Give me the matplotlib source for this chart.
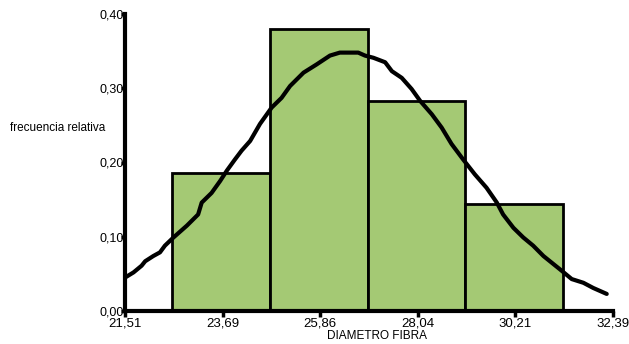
import numpy as np
import matplotlib
matplotlib.use('Agg')
import matplotlib.pyplot as plt

plt.rcParams['font.family'] = ['Liberation Sans', 'DejaVu Sans']

# histogram bins (DIAMETRO FIBRA) and relative frequencies
bin_edges = [22.56, 24.74, 26.92, 29.10, 31.28]
rel_freq = [0.186, 0.380, 0.283, 0.144]

# fitted curve
curve_x = [21.51, 21.70, 21.88, 21.96, 22.14, 22.29, 22.40, 22.59, 22.89, 23.14,
           23.22, 23.44, 23.63, 23.78, 23.96, 24.11, 24.30, 24.52, 24.78, 25.00,
           25.19, 25.49, 25.78, 26.08, 26.30, 26.71, 26.86, 27.05, 27.31, 27.46,
           27.68, 27.90, 28.09, 28.35, 28.57, 28.79, 29.05, 29.31, 29.57, 29.80,
           29.94, 30.17, 30.39, 30.61, 30.84, 31.21, 31.47, 31.73, 31.95, 32.25]
curve_y = [0.045, 0.052, 0.061, 0.067, 0.074, 0.079, 0.088, 0.099, 0.115, 0.130,
           0.146, 0.159, 0.175, 0.189, 0.204, 0.216, 0.229, 0.252, 0.274, 0.287,
           0.303, 0.321, 0.332, 0.344, 0.348, 0.348, 0.344, 0.341, 0.335, 0.323,
           0.314, 0.299, 0.283, 0.265, 0.247, 0.225, 0.204, 0.184, 0.166, 0.146,
           0.130, 0.112, 0.099, 0.088, 0.074, 0.056, 0.043, 0.038, 0.031, 0.023]

x_ticks = [21.51, 23.69, 25.86, 28.04, 30.21, 32.39]
x_ticklabels = ['21,51', '23,69', '25,86', '28,04', '30,21', '32,39']
y_ticks = [0.0, 0.1, 0.2, 0.3, 0.4]
y_ticklabels = ['0,00', '0,10', '0,20', '0,30', '0,40']

fig = plt.figure(figsize=(6.29, 3.44), dpi=100)
ax = fig.add_axes([125/629, 1-311/344, (613-125)/629, (311-14)/344])

widths = np.diff(bin_edges)
ax.bar(bin_edges[:-1], rel_freq, width=widths, align='edge',
       color='#A4C974', edgecolor='black', linewidth=2.0, zorder=2)
ax.plot(curve_x, curve_y, color='black', linewidth=3.0, zorder=3,
        solid_capstyle='round', solid_joinstyle='round')

ax.set_xlim(21.51, 32.39)
ax.set_ylim(0, 0.40)
ax.set_xticks(x_ticks)
ax.set_xticklabels(x_ticklabels)
ax.set_yticks(y_ticks)
ax.set_yticklabels(y_ticklabels)

for s in ['top', 'right']:
    ax.spines[s].set_visible(False)
ax.spines['left'].set_linewidth(3.0)
ax.spines['bottom'].set_linewidth(3.0)
ax.tick_params(axis='x', length=4, width=2.5, labelsize=9.5, pad=1)
ax.tick_params(axis='y', length=3, width=2.5, labelsize=9, pad=-2)

fig.text(10/629, 1-128/344, 'frecuencia relativa', fontsize=8.5,
         ha='left', va='center')
fig.text(377/629, 1-336/344, 'DIAMETRO FIBRA', fontsize=8.5,
         ha='center', va='center')

fig.savefig('out.png', dpi=100)
